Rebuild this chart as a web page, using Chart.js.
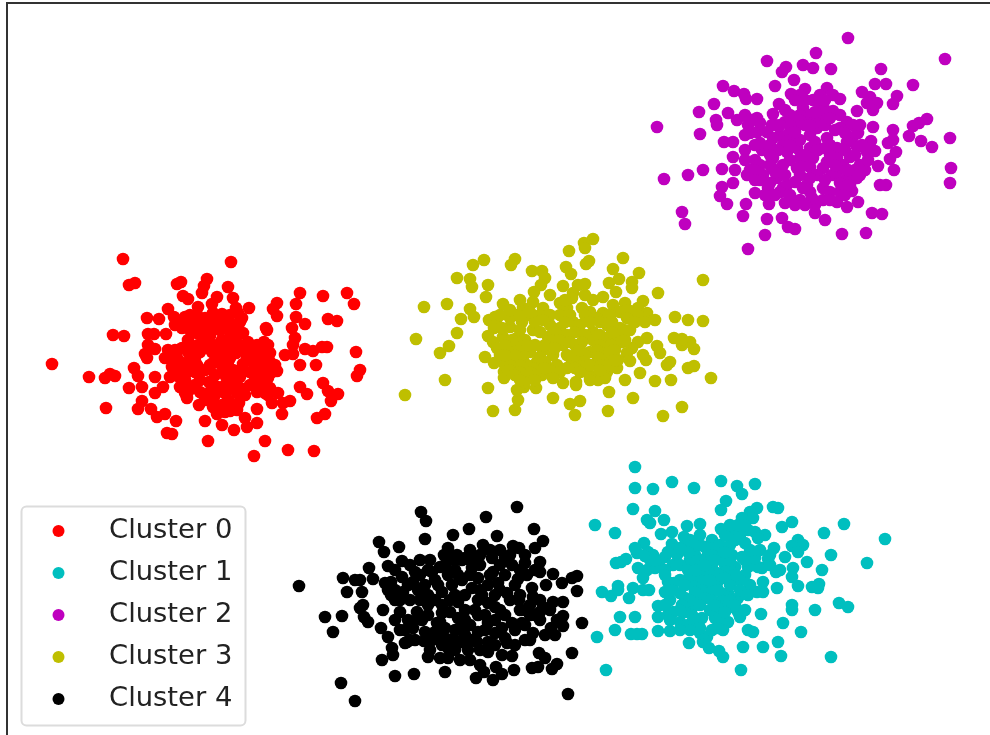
<!DOCTYPE html>
<html>
<head>
<meta charset="utf-8">
<style>
  html, body { margin: 0; padding: 0; background: #fff; }
  #wrap { position: relative; width: 990px; height: 735px; overflow: hidden; }
</style>
<script src="https://cdn.jsdelivr.net/npm/chart.js@4/dist/chart.umd.min.js"></script>
</head>
<body>
<div id="wrap"><canvas id="clusterChart" width="990" height="735"></canvas></div>
<script>
const clusterNames = ['Cluster 0', 'Cluster 1', 'Cluster 2', 'Cluster 3', 'Cluster 4'];
const clusterColors = ['#ff0000', '#00bfbf', '#bf00bf', '#bfbf00', '#000000'];

const cluster0 = [[123,259],[231,262],[129,285],[135,283],[177,284],[181,282],[207,279],[204,286],[202,293],[228,287],[183,296],[188,299],[217,297],[233,298],[212,304],[300,293],[323,296],[347,293],[354,304],[277,303],[273,309],[277,316],[296,304],[249,308],[236,308],[168,309],[198,307],[197,315],[147,318],[159,319],[174,317],[185,317],[296,317],[305,324],[328,319],[337,321],[292,328],[266,328],[267,330],[113,335],[124,336],[148,334],[154,334],[166,334],[295,338],[264,342],[148,345],[155,349],[293,345],[285,355],[293,354],[305,349],[313,351],[322,347],[327,347],[356,352],[145,354],[147,358],[165,358],[52,364],[89,377],[105,378],[110,374],[115,376],[134,368],[138,376],[142,387],[129,388],[155,377],[163,387],[155,393],[170,377],[300,365],[316,365],[360,370],[357,376],[300,387],[307,394],[323,383],[328,391],[338,394],[331,401],[142,401],[138,409],[151,409],[157,417],[165,414],[176,421],[106,408],[167,433],[172,434],[205,421],[199,405],[208,441],[265,441],[254,456],[288,450],[314,451],[325,414],[317,418],[282,414],[257,423],[257,409],[245,418],[247,427],[234,430],[222,425],[230,411],[237,410],[217,414],[290,401],[283,403],[272,403],[278,393],[268,395],[185,393],[187,398],[213,400],[213,407],[209,382],[218,387],[239,403],[180,323],[197,333],[203,337],[213,320],[223,320],[233,325],[243,333],[207,327],[220,330],[230,337],[182,348],[193,347],[217,345],[230,347],[243,350],[263,348],[270,353],[177,358],[220,357],[230,358],[247,358],[263,360],[182,368],[197,365],[213,363],[233,370],[257,367],[267,370],[277,371],[172,367],[185,380],[230,380],[240,377],[265,380],[233,388],[243,389],[257,392],[265,393],[225,393],[190,322],[200,320],[190,330],[205,318],[215,328],[226,328],[236,332],[210,336],[222,340],[236,342],[248,342],[257,345],[268,345],[188,340],[198,345],[207,345],[212,352],[222,352],[236,353],[252,352],[258,356],[270,362],[275,365],[180,362],[190,370],[205,370],[222,366],[228,362],[243,364],[250,360],[188,362],[175,372],[185,375],[195,372],[210,365],[240,370],[232,377],[226,384],[236,384],[262,374],[268,378],[272,372],[225,375],[186,386],[180,387],[210,392],[215,395],[228,400],[232,405],[260,385],[270,388],[222,345],[204,330],[196,322],[240,322],[230,315],[222,314],[213,313],[242,318],[238,313],[182,328],[190,315],[175,325],[174,362],[178,350],[188,352],[200,352],[195,358],[188,392],[195,385],[200,380],[200,392],[178,376],[170,357],[215,375],[212,382],[250,372],[255,378],[250,385],[245,395],[237,393],[248,350],[240,345],[258,362],[222,405],[225,412],[205,400],[175,350],[168,350]];
const cluster1 = [[635,467],[635,488],[653,489],[672,482],[694,488],[721,481],[737,486],[742,494],[755,484],[726,501],[721,510],[633,509],[655,511],[595,525],[615,533],[647,520],[650,523],[664,520],[661,534],[672,532],[687,526],[700,524],[721,529],[757,508],[750,512],[742,518],[753,518],[773,507],[778,508],[792,522],[782,527],[844,524],[824,533],[885,539],[867,563],[831,555],[755,532],[765,535],[758,538],[742,530],[733,535],[745,543],[774,548],[798,540],[792,546],[803,545],[798,552],[785,557],[807,562],[793,568],[822,570],[776,572],[792,577],[798,586],[777,588],[819,584],[812,587],[818,588],[768,559],[762,568],[755,565],[763,582],[757,592],[750,585],[763,592],[839,603],[848,607],[815,610],[792,605],[792,610],[761,614],[783,623],[801,632],[748,630],[753,632],[778,642],[763,647],[743,647],[781,656],[831,657],[741,670],[606,670],[597,637],[723,657],[719,651],[709,648],[703,642],[707,637],[689,643],[700,633],[615,630],[631,634],[637,634],[642,634],[658,631],[670,631],[620,617],[635,617],[658,606],[658,617],[668,615],[673,612],[680,622],[688,625],[602,592],[611,596],[618,586],[618,590],[629,598],[633,588],[643,590],[649,590],[665,592],[668,582],[674,583],[616,563],[621,562],[626,559],[637,553],[644,543],[648,552],[653,555],[638,568],[647,570],[643,578],[660,567],[665,557],[672,544],[677,555],[673,565],[684,537],[688,545],[712,540],[705,547],[695,555],[708,555],[718,555],[732,555],[742,557],[692,568],[702,567],[712,565],[725,565],[735,567],[748,567],[758,567],[695,578],[705,577],[717,573],[730,570],[698,587],[708,588],[717,583],[700,597],[685,598],[680,593],[728,593],[738,598],[722,600],[717,612],[692,608],[738,612],[740,617],[685,612],[692,615],[702,618],[722,623],[728,622],[723,630],[715,618],[700,545],[712,548],[720,545],[730,545],[735,540],[740,535],[748,530],[690,560],[700,560],[712,555],[722,560],[730,560],[745,560],[755,558],[680,565],[688,570],[698,575],[708,572],[720,575],[700,580],[710,580],[692,585],[702,590],[712,592],[705,598],[712,600],[695,592],[718,590],[700,605],[690,600],[682,605],[722,606],[728,608],[745,575],[740,580],[735,575],[665,570],[655,568],[650,560],[645,556],[635,548],[680,610],[670,600],[695,620],[700,628],[712,630],[718,628],[730,600],[735,605],[710,610],[715,605],[770,565],[780,570],[690,575],[696,570],[705,565],[715,560],[725,552],[665,575],[680,580],[685,585],[672,590],[655,560],[668,552],[690,540],[700,535],[725,535],[730,525],[738,525],[745,525],[690,630],[680,630],[670,620],[665,605],[725,612],[730,585],[725,578],[740,590],[748,595],[745,610],[750,550],[760,550],[770,555],[695,545],[688,552],[680,548]];
const cluster2 = [[848,38],[945,59],[816,53],[767,61],[803,65],[813,68],[831,69],[786,67],[782,72],[881,69],[794,80],[775,86],[805,89],[791,94],[723,86],[734,91],[744,94],[746,99],[757,99],[714,104],[699,112],[779,104],[875,84],[886,84],[913,85],[862,92],[870,97],[877,103],[897,96],[893,104],[857,111],[873,110],[867,103],[827,88],[833,95],[840,99],[833,111],[657,127],[700,134],[716,120],[717,125],[728,113],[737,120],[745,115],[757,118],[750,133],[773,114],[724,142],[733,142],[733,157],[735,170],[722,169],[703,170],[688,175],[664,179],[733,183],[722,187],[720,196],[727,204],[746,204],[747,175],[755,193],[682,212],[685,224],[743,216],[767,219],[782,218],[788,227],[795,229],[765,235],[748,249],[842,234],[866,233],[825,220],[815,213],[847,207],[858,202],[872,213],[882,214],[880,185],[886,185],[878,166],[894,170],[890,159],[896,152],[888,143],[893,130],[893,140],[873,127],[871,141],[875,151],[867,152],[909,136],[913,126],[919,123],[927,119],[921,141],[932,147],[950,138],[951,168],[950,183],[769,204],[785,203],[768,188],[852,191],[840,192],[837,202],[823,200],[815,205],[823,188],[810,192],[803,188],[783,188],[813,100],[803,108],[820,105],[790,115],[810,115],[820,118],[797,125],[817,128],[847,122],[840,128],[853,125],[767,132],[780,135],[790,132],[810,135],[827,138],[853,137],[857,147],[847,142],[837,148],[783,145],[797,148],[810,148],[762,150],[755,160],[773,158],[787,152],[800,158],[813,158],[827,162],[837,158],[850,157],[860,165],[772,168],[783,165],[797,168],[810,167],[823,168],[837,172],[857,178],[847,178],[763,175],[777,178],[787,185],[800,175],[817,175],[832,175],[807,185],[757,132],[773,138],[805,100],[800,115],[815,122],[825,110],[825,125],[800,120],[785,122],[775,125],[790,125],[805,125],[810,125],[835,130],[845,133],[858,133],[790,140],[800,140],[815,142],[830,145],[845,150],[855,155],[770,145],[778,150],[760,143],[770,155],[790,160],[805,165],[818,150],[830,155],[843,165],[855,170],[785,175],[795,182],[770,183],[780,192],[790,195],[800,200],[812,198],[825,180],[840,183],[848,186],[830,192],[810,178],[770,165],[760,165],[750,170],[755,170],[775,172],[805,155],[790,145],[825,148],[835,165],[848,170],[795,132],[760,123],[748,125],[752,120],[772,125],[820,95],[800,95],[745,135],[755,145],[745,150],[745,160],[760,180],[755,180],[765,195],[775,195],[795,205],[805,205],[830,200],[845,195],[850,185],[860,175],[865,170],[868,160],[862,145],[860,125],[840,115],[815,112],[830,118],[780,125],[785,110],[795,100],[825,100]];
const cluster3 = [[593,239],[584,243],[585,248],[569,251],[623,258],[484,260],[473,265],[515,259],[511,265],[589,261],[586,264],[566,267],[571,274],[613,269],[639,273],[532,271],[542,271],[545,278],[541,285],[534,292],[457,278],[470,279],[472,287],[488,285],[486,297],[619,279],[609,283],[616,292],[632,282],[632,288],[658,293],[703,280],[563,286],[578,285],[585,284],[573,293],[424,307],[447,304],[470,309],[474,317],[461,319],[503,304],[643,301],[638,308],[647,313],[638,315],[675,317],[688,320],[703,321],[457,333],[416,339],[449,346],[440,353],[489,320],[495,317],[494,328],[488,336],[493,342],[497,348],[503,337],[485,357],[494,363],[504,372],[504,378],[445,380],[405,395],[488,388],[493,411],[515,410],[518,400],[517,390],[524,387],[536,388],[553,398],[570,404],[580,401],[575,415],[608,411],[609,392],[633,398],[625,380],[663,416],[682,407],[655,381],[671,380],[711,378],[563,383],[576,382],[576,385],[667,365],[670,362],[688,368],[694,366],[694,349],[690,342],[682,345],[682,339],[674,338],[660,353],[657,346],[647,338],[638,342],[632,348],[627,353],[630,361],[643,355],[646,360],[640,373],[617,368],[618,360],[515,315],[523,308],[533,302],[543,308],[560,303],[572,298],[567,308],[582,308],[593,300],[603,297],[613,305],[625,303],[620,312],[603,313],[590,312],[510,327],[522,322],[533,330],[550,325],[560,328],[573,322],[580,325],[593,332],[607,325],[620,328],[567,335],[548,337],[517,338],[510,348],[520,347],[543,350],[563,345],[575,345],[593,340],[607,338],[617,337],[603,348],[590,352],[510,357],[523,357],[537,362],[540,357],[567,355],[557,365],[572,362],[583,363],[597,362],[607,357],[525,373],[533,368],[542,375],[560,372],[567,368],[587,372],[597,375],[598,380],[590,377],[515,365],[527,365],[510,318],[518,315],[528,315],[540,315],[550,315],[560,315],[570,315],[585,315],[597,318],[610,315],[628,310],[535,322],[543,320],[565,322],[590,322],[600,322],[612,322],[627,318],[540,332],[555,332],[575,332],[585,335],[600,335],[612,332],[624,330],[520,330],[512,340],[525,340],[553,340],[560,340],[570,342],[582,342],[600,345],[612,345],[622,342],[515,355],[530,352],[545,345],[553,355],[597,350],[610,352],[520,365],[505,365],[510,365],[545,362],[575,355],[585,355],[598,357],[615,350],[530,372],[538,375],[575,368],[590,365],[603,365],[607,372],[590,380],[580,372],[510,370],[520,372],[550,370],[605,378],[497,325],[502,328],[505,345],[500,355],[505,355],[515,375],[525,382],[520,380],[535,380],[545,368],[553,378],[600,370],[610,365],[615,360],[625,340],[630,330],[635,322],[645,322],[655,320],[528,345],[535,345],[555,348],[580,350],[565,300],[550,295],[585,295],[530,312],[500,315],[510,310],[520,300]];
const cluster4 = [[517,507],[486,517],[421,512],[426,521],[425,539],[469,529],[453,535],[497,536],[534,529],[543,541],[535,548],[379,542],[384,552],[399,547],[402,561],[388,566],[369,568],[343,578],[355,580],[360,580],[373,579],[299,586],[347,592],[362,592],[385,583],[391,582],[391,595],[363,605],[360,608],[364,617],[368,622],[383,610],[342,616],[325,617],[333,632],[381,628],[388,637],[392,648],[393,655],[382,660],[395,676],[414,674],[341,683],[355,701],[568,694],[445,672],[476,678],[484,672],[493,680],[496,667],[502,674],[514,670],[532,668],[538,667],[552,669],[557,664],[572,653],[539,653],[545,658],[582,623],[563,616],[563,626],[557,620],[551,628],[563,602],[553,602],[577,591],[577,576],[572,578],[562,583],[553,574],[546,585],[540,562],[525,563],[540,572],[527,575],[518,579],[532,588],[533,597],[543,607],[525,610],[535,615],[519,600],[533,633],[513,546],[519,548],[492,558],[505,558],[512,565],[483,545],[470,550],[448,548],[444,555],[457,555],[400,612],[405,643],[407,642],[424,641],[428,657],[440,658],[448,658],[502,655],[512,656],[507,643],[488,652],[477,642],[415,572],[428,570],[440,567],[402,577],[413,582],[435,580],[448,575],[458,575],[472,568],[477,558],[493,572],[498,583],[507,593],[403,592],[428,595],[442,592],[455,595],[472,588],[482,595],[428,605],[442,605],[458,602],[488,603],[495,607],[417,612],[442,613],[485,615],[412,622],[422,620],[437,623],[458,618],[488,623],[512,623],[522,623],[502,628],[413,628],[435,632],[462,627],[465,635],[485,630],[495,633],[445,638],[462,642],[442,645],[448,648],[472,640],[488,642],[410,565],[420,575],[432,572],[445,565],[455,560],[465,558],[480,565],[500,565],[520,570],[535,570],[408,585],[418,590],[438,585],[452,585],[462,580],[478,578],[488,585],[505,575],[515,585],[410,600],[420,600],[435,600],[450,600],[465,595],[478,600],[495,595],[520,610],[530,605],[540,612],[550,610],[408,620],[428,615],[450,612],[465,610],[478,615],[495,620],[505,615],[405,630],[425,632],[445,628],[455,630],[470,625],[478,632],[505,638],[515,630],[525,625],[540,620],[450,640],[455,650],[468,650],[440,635],[432,640],[480,650],[495,645],[450,555],[462,560],[480,555],[395,590],[400,600],[395,570],[440,622],[415,640],[395,600],[388,590],[395,620],[400,630],[410,640],[430,650],[470,560],[490,550],[500,550],[510,555],[525,555],[490,575],[500,590],[510,600],[520,595],[530,640],[545,635],[555,635],[525,640],[515,645],[465,620],[455,640],[470,660],[480,665],[460,660],[475,610],[425,585],[430,560],[420,560],[480,590],[470,575],[455,570],[540,600],[530,615],[500,610]];

const clusterPoints = [cluster0, cluster1, cluster2, cluster3, cluster4];

// legend box inside the axes, lower left corner
const legendBox = {
  id: 'legendBox',
  afterDraw(chart) {
    const ctx = chart.ctx;
    ctx.save();
    ctx.beginPath();
    ctx.roundRect(21.5, 506.5, 224, 219, 5);
    ctx.fillStyle = 'rgba(255,255,255,0.8)';
    ctx.fill();
    ctx.lineWidth = 2;
    ctx.strokeStyle = '#dcdcdc';
    ctx.stroke();
    ctx.font = '27.4px "DejaVu Sans"';
    ctx.textBaseline = 'alphabetic';
    chart.data.datasets.forEach((ds, i) => {
      ctx.beginPath();
      ctx.arc(58.5, 531 + i * 42, 6, 0, Math.PI * 2);
      ctx.fillStyle = ds.backgroundColor;
      ctx.fill();
      ctx.fillStyle = '#222';
      ctx.fillText(ds.label, 109, 538 + i * 42);
    });
    ctx.restore();
  }
};

new Chart(document.getElementById('clusterChart'), {
  type: 'scatter',
  data: {
    datasets: clusterNames.map((name, i) => ({
      label: name,
      data: clusterPoints[i].map(p => ({ x: p[0], y: p[1] })),
      backgroundColor: clusterColors[i],
      borderWidth: 0,
      pointRadius: 6.3,
      pointHoverRadius: 6.3
    }))
  },
  options: {
    responsive: false,
    animation: false,
    layout: { autoPadding: false, padding: { left: 7, top: 3, right: 0, bottom: 0 } },
    plugins: { legend: { display: false }, tooltip: { enabled: false } },
    scales: {
      x: {
        type: 'linear', position: 'top', min: 7, max: 990,
        grid: { display: false, drawTicks: false }, ticks: { display: false },
        border: { color: '#333', width: 2 }
      },
      y: {
        type: 'linear', position: 'left', reverse: true, min: 3, max: 735,
        grid: { display: false, drawTicks: false }, ticks: { display: false },
        border: { color: '#333', width: 2 }
      }
    }
  },
  plugins: [legendBox]
});
</script>
</body>
</html>
